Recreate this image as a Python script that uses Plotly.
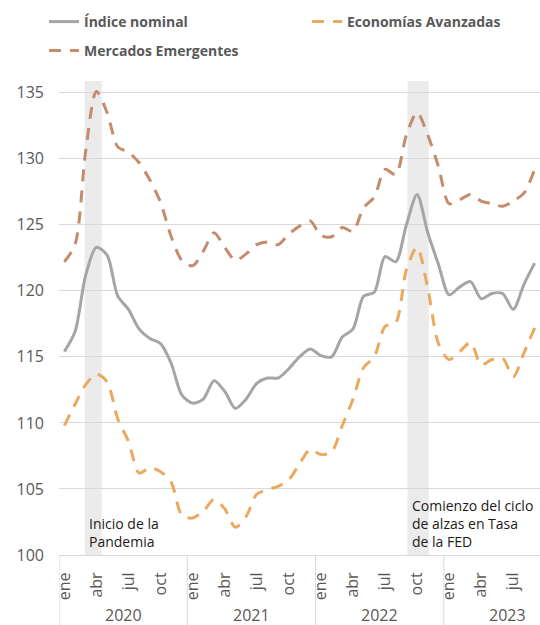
import plotly.graph_objects as go

# ---------------- data ----------------
meses = ["ene", "feb", "mar", "abr", "may", "jun", "jul", "ago", "sep", "oct", "nov", "dic"]
anios = ["2020", "2021", "2022", "2023"]
meses_por_anio = [12, 12, 12, 9]
meses_con_etiqueta = ["ene", "abr", "jul", "oct"]

indice_nominal = [115.4, 116.9, 121.2, 123.3, 122.7, 119.6, 118.6, 117.1, 116.4, 116.0, 114.5, 112.1,
                  111.5, 111.8, 113.2, 112.4, 111.1, 111.8, 113.0, 113.4, 113.4, 114.1, 115.0, 115.6,
                  115.1, 115.0, 116.5, 117.1, 119.6, 119.9, 122.6, 122.2, 125.0, 127.3, 124.4, 122.0,
                  119.7, 120.3, 120.7, 119.4, 119.8, 119.8, 118.6, 120.5, 122.1]
economias_avanzadas = [109.8, 111.4, 112.9, 113.7, 113.1, 110.3, 108.6, 106.2, 106.6, 106.3, 105.5, 103.0,
                       102.8, 103.3, 104.2, 103.5, 102.1, 102.9, 104.6, 104.95, 105.2, 105.7, 106.9, 108.0,
                       107.6, 107.8, 109.8, 111.8, 114.2, 115.0, 117.3, 117.6, 121.6, 123.3, 120.2, 116.0,
                       114.8, 115.4, 116.1, 114.4, 114.8, 114.9, 113.5, 115.3, 117.2]
mercados_emergentes = [122.2, 123.5, 130.6, 135.1, 133.5, 130.9, 130.5, 129.7, 128.4, 126.7, 124.1, 122.3,
                       121.9, 123.0, 124.4, 123.3, 122.3, 122.8, 123.5, 123.7, 123.5, 124.3, 124.9, 125.3,
                       124.2, 124.1, 124.8, 124.5, 126.3, 127.1, 129.2, 128.8, 131.8, 133.5, 131.8, 129.4,
                       126.6, 126.9, 127.3, 126.8, 126.6, 126.4, 126.8, 127.4, 129.2]

eventos_texto = ["Inicio de la<br>Pandemia", "Comienzo del ciclo<br>de alzas en Tasa<br>de la FED"]
eventos_inicio = [1.9, 32.1]
eventos_fin = [3.5, 34.1]

# ---------------- derived ----------------
etiquetas = []
for a, n in zip(anios, meses_por_anio):
    etiquetas += meses[:n]
x = list(range(len(etiquetas)))
tickvals = [i for i, m in enumerate(etiquetas) if m in meses_con_etiqueta]
ticktext = [etiquetas[i] for i in tickvals]

GRAY = "#A5A5A5"
ORANGE = "#EBA95E"
BROWN = "#C48B6C"
TXT = "#595959"
GRID = "#D9D9D9"
FONT = "Open Sans"

fig = go.Figure()

fig.add_trace(go.Scatter(x=x, y=indice_nominal, name="<b>Índice nominal</b>", mode="lines",
                         line=dict(color=GRAY, width=3, shape="spline", smoothing=0.8),
                         legend="legend", showlegend=True))
fig.add_trace(go.Scatter(x=x, y=economias_avanzadas, name="<b>Economías Avanzadas</b>", mode="lines",
                         line=dict(color=ORANGE, width=3, dash="12px,9px", shape="spline", smoothing=0.8),
                         legend="legend3", showlegend=True))
fig.add_trace(go.Scatter(x=x, y=mercados_emergentes, name="<b>Mercados Emergentes</b>", mode="lines",
                         line=dict(color=BROWN, width=3, dash="12px,9px", shape="spline", smoothing=0.8),
                         legend="legend2", showlegend=True))

shapes = []
annotations = []
# shaded event bands
for x0, x1 in zip(eventos_inicio, eventos_fin):
    shapes.append(dict(type="rect", xref="x", yref="paper", x0=x0, x1=x1, y0=0, y1=1,
                       fillcolor="#EBEBEB", line=dict(width=0), layer="between"))
# event labels
for xi, txt in zip(eventos_inicio, eventos_texto):
    annotations.append(dict(x=xi + 0.2, y=100.15, xref="x", yref="y", text=txt,
                            showarrow=False, xanchor="left", yanchor="bottom", align="left",
                            font=dict(family=FONT, size=14, color="#1A1A1A")))

# year groups: dividers and labels
start = 0
plot_h = 555 - 81
for a, n in zip(anios, meses_por_anio):
    shapes.append(dict(type="line", xref="x", yref="paper", x0=start - 0.5, x1=start - 0.5,
                       y0=0, y1=-(625 - 555) / plot_h, line=dict(color=GRID, width=1)))
    center = start + (n - 1) / 2 if n == 12 else start + 5.5
    annotations.append(dict(x=center, y=-(615 - 555) / plot_h, xref="x", yref="paper", text=a,
                            showarrow=False, xanchor="center", yanchor="middle",
                            font=dict(family=FONT, size=16, color=TXT)))
    start += n

leg_common = dict(orientation="h", xref="container", yref="container", xanchor="left",
                  yanchor="middle", font=dict(family=FONT, size=14, color=TXT),
                  bgcolor="rgba(0,0,0,0)")
fig.update_layout(
    width=540, height=625,
    showlegend=True,
    margin=dict(l=59, r=0, t=81, b=70, autoexpand=False),
    paper_bgcolor="white", plot_bgcolor="white",
    font=dict(family=FONT, color=TXT),
    shapes=shapes, annotations=annotations,
    legend=dict(x=44 / 540, y=1 - 22 / 625, **leg_common),
    legend3=dict(x=307 / 540, y=1 - 22 / 625, **leg_common),
    legend2=dict(x=44 / 540, y=1 - 51 / 625, **leg_common),
)
fig.update_xaxes(range=[-0.5, len(x) - 0.5], tickvals=tickvals, ticktext=ticktext, tickangle=-90,
                 showgrid=False, zeroline=False, showline=True, linecolor=GRID, linewidth=1,
                 ticks="", ticklabelstandoff=10,
                 tickfont=dict(family=FONT, size=16, color=TXT))
fig.update_yaxes(range=[100, 135.89], tickvals=[100, 105, 110, 115, 120, 125, 130, 135],
                 showgrid=True, gridcolor=GRID, gridwidth=1, zeroline=False, showline=False,
                 ticks="", ticklabelstandoff=14,
                 tickfont=dict(family=FONT, size=16, color=TXT))

fig.write_html("out.html", config={"displayModeBar": False},
               post_script="document.body.style.margin='0';")
